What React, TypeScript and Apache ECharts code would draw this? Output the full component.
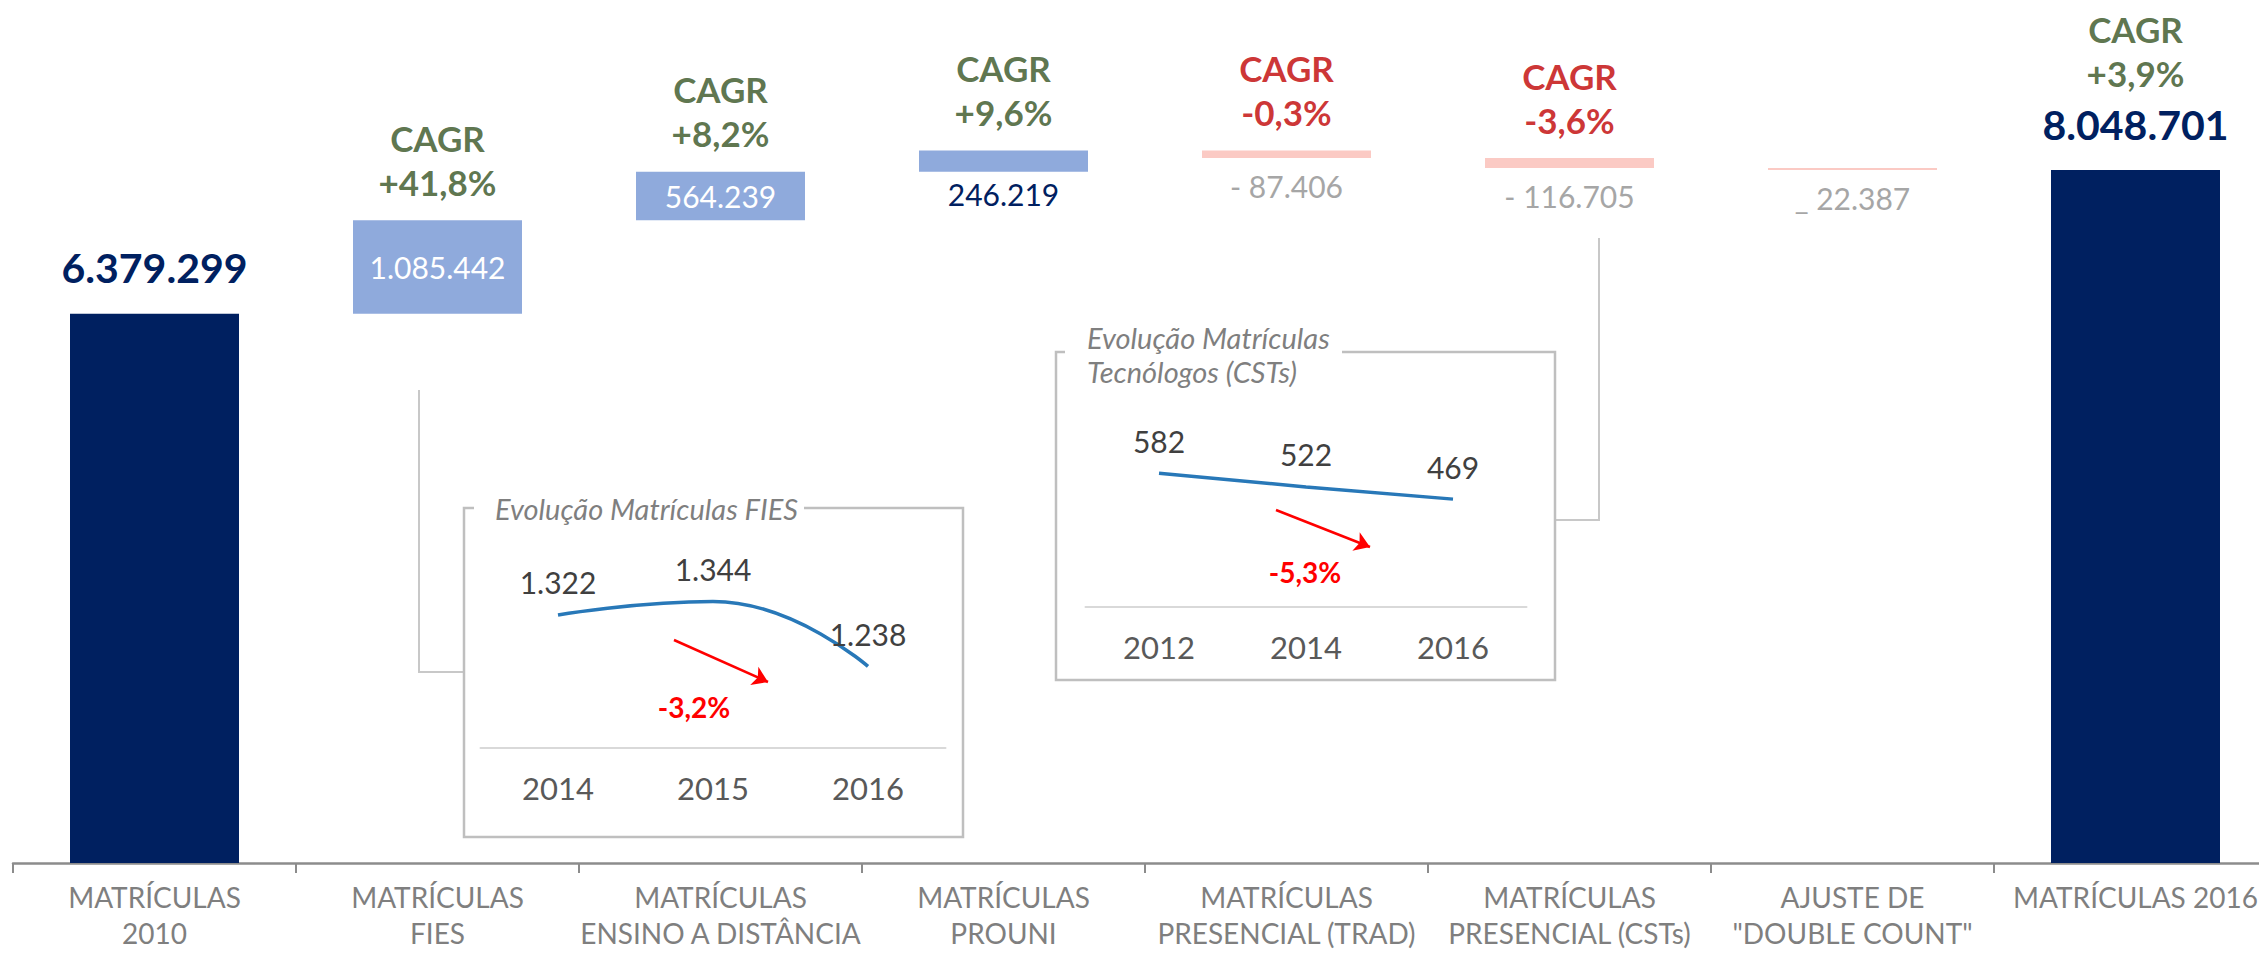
import React, { useEffect, useRef } from 'react';
import * as echarts from 'echarts';

// ---------- data ----------
const categories = [
  'MATRÍCULAS\n2010',
  'MATRÍCULAS\nFIES',
  'MATRÍCULAS\nENSINO A DISTÂNCIA',
  'MATRÍCULAS\nPROUNI',
  'MATRÍCULAS\nPRESENCIAL (TRAD)',
  'MATRÍCULAS\nPRESENCIAL (CSTs)',
  'AJUSTE DE\n"DOUBLE COUNT"',
  'MATRÍCULAS 2016',
];
const values = [6379299, 1085442, 564239, 246219, -87406, -116705, -22387, 8048701];
const isTotal = [true, false, false, false, false, false, false, true];
const cagrLabels = ['', '+41,8%', '+8,2%', '+9,6%', '-0,3%', '-3,6%', '', '+3,9%'];
const valuePrefix = ['', '', '', '', '- ', '- ', '_ ', ''];

const fiesYears = ['2014', '2015', '2016'];
const fiesValues = [1322, 1344, 1238];
const fiesTitle = 'Evolução Matrículas FIES';
const fiesCagr = '-3,2%';

const cstYears = ['2012', '2014', '2016'];
const cstValues = [582, 522, 469];
const cstTitle = 'Evolução Matrículas\nTecnólogos (CSTs)';
const cstCagr = '-5,3%';

// ---------- styles ----------
const FONT = 'Lato';
const NAVY = '#002060';
const LIGHT_BLUE = '#8faadc';
const PINK = '#fbcac4';
const GREEN = '#34521f';
const DARK_RED = '#c00000';
const GRAY_BOX = '#bfbfbf';

const fmt = (n: number) => Math.abs(n).toString().replace(/\B(?=(\d{3})+(?!\d))/g, '.');

function buildOption() {
  // waterfall computation
  const base: number[] = [];
  const heights: number[] = [];
  let running = 0;
  values.forEach((v, i) => {
    if (isTotal[i]) {
      base.push(0);
      heights.push(v);
      running = v;
    } else if (v >= 0) {
      base.push(running);
      heights.push(v);
      running += v;
    } else {
      running += v;
      base.push(running);
      heights.push(-v);
    }
  });
  const tops = base.map((b, i) => b + heights[i]);

  const visData = values.map((v, i) => {
    let color = LIGHT_BLUE;
    let label: any;
    if (isTotal[i]) {
      color = NAVY;
      label = { position: 'top', distance: 22, fontSize: 41, fontWeight: 'bold', color: NAVY, lineHeight: 48 };
    } else if (v > 400000) {
      label = { position: 'inside', fontSize: 30, color: '#ffffff' };
    } else if (v > 0) {
      label = { position: 'bottom', distance: 4, fontSize: 30, color: NAVY, lineHeight: 36 };
    } else {
      color = PINK;
      label = { position: 'bottom', distance: 10, fontSize: 30, color: '#a6a6a6', lineHeight: 36 };
    }
    return {
      value: heights[i],
      itemStyle: { color },
      label: { show: true, fontFamily: FONT, formatter: valuePrefix[i] + fmt(v), ...label },
    };
  });

  const cagrData = tops.map((t, i) =>
    cagrLabels[i]
      ? {
          value: t,
          label: {
            color: cagrLabels[i].startsWith('-') ? DARK_RED : GREEN,
            distance: isTotal[i] ? 75 : 16,
          },
        }
      : '-'
  );

  const insetXAxis = (gridIndex: number, data: string[]) => ({
    type: 'category',
    gridIndex,
    data,
    boundaryGap: true,
    axisLine: { lineStyle: { color: '#d9d9d9', width: 2 } },
    axisTick: { show: false },
    axisLabel: { fontSize: 31, color: '#595959', margin: 24, fontFamily: FONT },
  });

  const insetLine = (idx: number, data: number[], arrow: number[][]) => ({
    type: 'line',
    xAxisIndex: idx,
    yAxisIndex: idx,
    data,
    smooth: true,
    symbol: 'circle',
    symbolSize: 1,
    showSymbol: true,
    itemStyle: { color: 'rgba(0,0,0,0)' },
    lineStyle: { color: '#2878b8', width: 3.5 },
    label: {
      show: true,
      position: 'top',
      distance: 17,
      fontSize: 30,
      color: '#404040',
      fontFamily: FONT,
      formatter: (p: any) => fmt(p.value),
    },
    markLine: {
      silent: true,
      symbol: ['none', 'arrow'],
      symbolSize: 15,
      lineStyle: { color: '#ff0000', width: 2.5, type: 'solid' },
      label: { show: false },
      data: [[{ x: arrow[0][0], y: arrow[0][1] }, { x: arrow[1][0], y: arrow[1][1] }]],
    },
  });

  const boxLine = { stroke: GRAY_BOX, lineWidth: 2.5, fill: null };

  return {
    animation: false,
    backgroundColor: '#ffffff',
    textStyle: { fontFamily: FONT },
    grid: [
      { left: 13, top: 2, width: 2264, height: 861, outerBoundsMode: 'none', containLabel: false },
      { left: 480.5, top: 564, width: 465, height: 184, outerBoundsMode: 'none' },
      { left: 1085.5, top: 423, width: 441, height: 184, outerBoundsMode: 'none' },
    ],
    xAxis: [
      {
        type: 'category',
        gridIndex: 0,
        data: categories,
        axisLine: { lineStyle: { color: '#8c8c8c', width: 2.5 } },
        axisTick: { show: true, length: 10, lineStyle: { color: '#8c8c8c', width: 2 } },
        axisLabel: {
          interval: 0,
          fontSize: 28,
          lineHeight: 36,
          color: '#7f7f7f',
          margin: 16,
          fontFamily: FONT,
        },
      },
      insetXAxis(1, fiesYears),
      insetXAxis(2, cstYears),
    ],
    yAxis: [
      { type: 'value', gridIndex: 0, min: 0, max: 10000000, show: false },
      { type: 'value', gridIndex: 1, min: 1105, max: 1405, show: false },
      { type: 'value', gridIndex: 2, min: 0, max: 800, show: false },
    ],
    series: [
      {
        type: 'bar',
        stack: 'wf',
        barWidth: 169,
        silent: true,
        data: base,
        itemStyle: { color: 'transparent' },
      },
      {
        type: 'bar',
        stack: 'wf',
        barWidth: 169,
        silent: true,
        data: visData,
      },
      {
        type: 'scatter',
        silent: true,
        symbolSize: 1,
        itemStyle: { color: 'transparent' },
        data: cagrData,
        z: 5,
        label: {
          show: true,
          position: 'top',
          fontFamily: FONT,
          formatter: (p: any) => `{a|CAGR}\n{a|${cagrLabels[p.dataIndex]}}`,
          rich: { a: { fontSize: 35, fontWeight: 'bold', lineHeight: 44, fontFamily: FONT } },
        },
      },
      insetLine(1, fiesValues, [[674, 640], [768, 682]]),
      insetLine(2, cstValues, [[1276, 510], [1370, 547]]),
    ],
    graphic: [
      // connectors
      { type: 'polyline', silent: true, shape: { points: [[419, 390], [419, 672], [464, 672]] }, style: { stroke: '#c8c8c8', lineWidth: 2, fill: null } },
      { type: 'polyline', silent: true, shape: { points: [[1599, 238], [1599, 520], [1555, 520]] }, style: { stroke: '#c8c8c8', lineWidth: 2, fill: null } },
      // boxes
      { type: 'polyline', silent: true, shape: { points: [[474, 508], [464, 508], [464, 837], [963, 837], [963, 508], [804, 508]] }, style: boxLine },
      { type: 'polyline', silent: true, shape: { points: [[1065, 352], [1056, 352], [1056, 680], [1555, 680], [1555, 352], [1342, 352]] }, style: boxLine },
      // titles
      {
        type: 'text', silent: true, x: 495, y: 508,
        style: { text: fiesTitle, fontFamily: FONT, fontStyle: 'italic', fontSize: 29, fill: '#7f7f7f', verticalAlign: 'middle', align: 'left' },
      },
      {
        type: 'text', silent: true, x: 1087, y: 354,
        style: { text: cstTitle, fontFamily: FONT, fontStyle: 'italic', fontSize: 29, lineHeight: 34, fill: '#7f7f7f', verticalAlign: 'middle', align: 'left' },
      },
      // CAGR of insets
      {
        type: 'text', silent: true, x: 694, y: 707,
        style: { text: fiesCagr, fontFamily: FONT, fontWeight: 'bold', fontSize: 28, fill: '#ff0000', align: 'center', verticalAlign: 'middle' },
      },
      {
        type: 'text', silent: true, x: 1305, y: 572,
        style: { text: cstCagr, fontFamily: FONT, fontWeight: 'bold', fontSize: 28, fill: '#ff0000', align: 'center', verticalAlign: 'middle' },
      },
    ],
  };
}

export default function App() {
  const ref = useRef<HTMLDivElement>(null);
  useEffect(() => {
    if (!ref.current) return;
    const chart = echarts.init(ref.current, undefined, { renderer: 'svg' });
    chart.setOption(buildOption() as any);
    return () => chart.dispose();
  }, []);
  return (
    <div
      ref={ref}
      style={{ position: 'absolute', left: 0, top: 0, width: '2259px', height: '959px', background: '#fff' }}
    />
  );
}
